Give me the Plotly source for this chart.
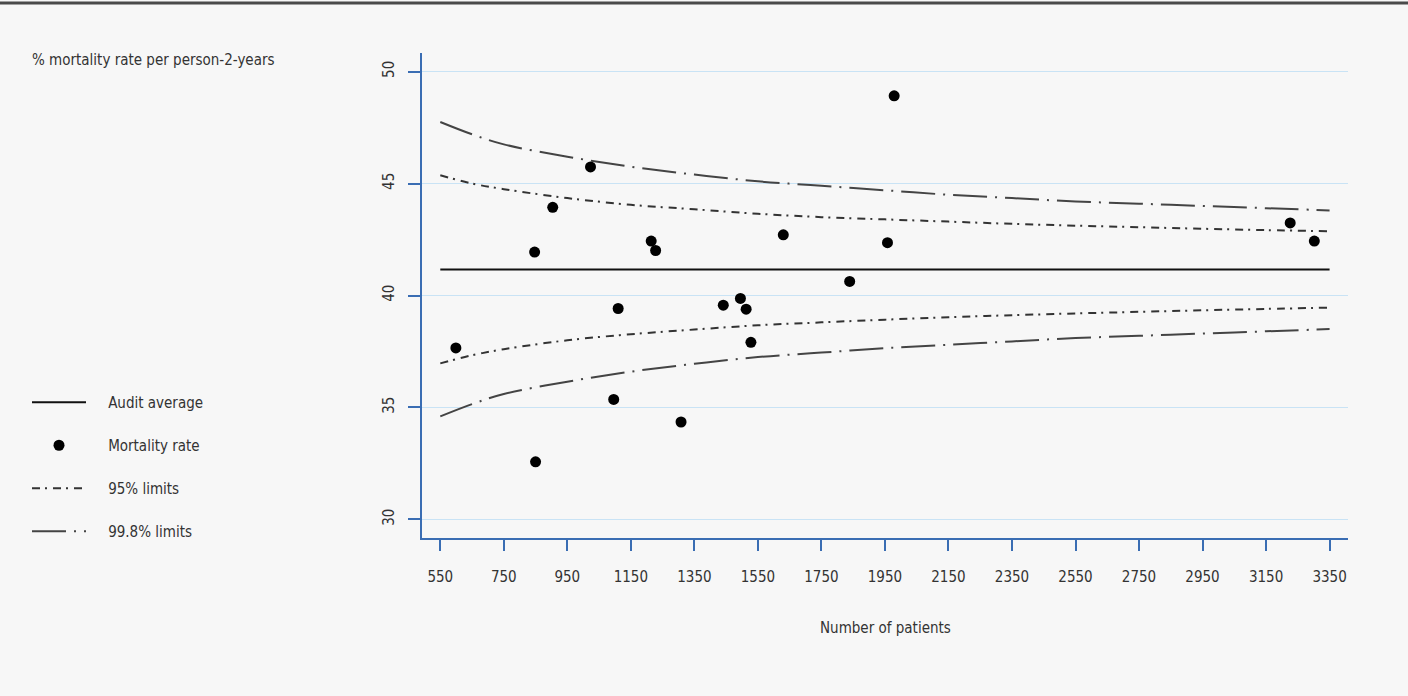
import plotly.graph_objects as go

# ---- data ----
n_patients = [599, 847, 850, 904, 1023, 1096, 1110, 1214, 1228, 1308,
              1441, 1495, 1513, 1528, 1630, 1839, 1958, 1979, 3226, 3302]
mortality = [37.66, 41.94, 32.57, 43.94, 45.74, 35.36, 39.42, 42.43, 42.01, 34.35,
             39.57, 39.87, 39.39, 37.91, 42.71, 40.63, 42.36, 48.92, 43.24, 42.43]

audit_x = [550, 3350]
audit_avg = [41.16, 41.16]

limit_x = [550, 650, 750, 950, 1150, 1350, 1550, 1750, 1950, 2150, 2350, 2550, 2750, 2950, 3150, 3350]
upper_998 = [47.75, 47.2, 46.75, 46.2, 45.75, 45.4, 45.1, 44.9, 44.7, 44.5, 44.35, 44.2, 44.1, 44.0, 43.9, 43.8]
upper_95 = [45.37, 45.0, 44.75, 44.35, 44.05, 43.85, 43.65, 43.5, 43.4, 43.3, 43.2, 43.12, 43.05, 42.98, 42.92, 42.87]
lower_95 = [36.97, 37.33, 37.6, 38.0, 38.27, 38.48, 38.67, 38.8, 38.92, 39.03, 39.12, 39.2, 39.27, 39.34, 39.4, 39.46]
lower_998 = [34.6, 35.15, 35.6, 36.15, 36.6, 36.95, 37.25, 37.45, 37.65, 37.8, 37.95, 38.1, 38.2, 38.3, 38.4, 38.5]

x_ticks = list(range(550, 3351, 200))
y_ticks = [30, 35, 40, 45, 50]

FONT = "Liberation Sans Narrow, Arial Narrow, DejaVu Sans Condensed, sans-serif"
FS = 15
TXT = "#333333"
AXIS_BLUE = "#3a6db3"
GRID = "#c9e3f5"
BG = "#f7f7f7"
DASH95 = "8px,5px,2px,6px"
DASH998 = "34px,8px,2px,8px"
PAD = "\u00a0" * 4

fig = go.Figure()

fig.add_trace(go.Scatter(x=audit_x, y=audit_avg, mode="lines", name=PAD + "Audit average",
                         line=dict(color="#111111", width=2), legendgroup="a"))
fig.add_trace(go.Scatter(x=n_patients, y=mortality, mode="markers", name=PAD + "Mortality rate",
                         marker=dict(color="#000000", size=11), legendgroup="b"))
fig.add_trace(go.Scatter(x=limit_x, y=upper_95, mode="lines", name=PAD + "95% limits",
                         line=dict(color="#333333", width=2, dash=DASH95, shape="spline"),
                         legendgroup="c"))
fig.add_trace(go.Scatter(x=limit_x, y=lower_95, mode="lines", name="95% limits",
                         line=dict(color="#333333", width=2, dash=DASH95, shape="spline"),
                         legendgroup="c", showlegend=False))
fig.add_trace(go.Scatter(x=limit_x, y=upper_998, mode="lines", name=PAD + "99.8% limits",
                         line=dict(color="#444444", width=2, dash=DASH998, shape="spline"),
                         legendgroup="d"))
fig.add_trace(go.Scatter(x=limit_x, y=lower_998, mode="lines", name="99.8% limits",
                         line=dict(color="#444444", width=2, dash=DASH998, shape="spline"),
                         legendgroup="d", showlegend=False))

fig.update_layout(
    width=1408, height=696,
    margin=dict(l=422, r=60, t=53, b=158),
    paper_bgcolor=BG, plot_bgcolor=BG,
    font=dict(family=FONT, size=FS, color=TXT),
    showlegend=True,
    legend=dict(xref="container", yref="container", x=27/1408, y=1 - 386/696,
                xanchor="left", yanchor="top", bgcolor="rgba(0,0,0,0)",
                font=dict(family=FONT, size=FS, color=TXT),
                tracegroupgap=20.5, itemwidth=54, traceorder="grouped"),
    xaxis=dict(range=[492.4, 3408], tickvals=x_ticks, ticktext=[str(v) for v in x_ticks],
               showgrid=False, zeroline=False, showline=True, linecolor=AXIS_BLUE, linewidth=2,
               ticks="outside", ticklen=11, tickwidth=2, tickcolor=AXIS_BLUE,
               ticklabelstandoff=13, tickfont=dict(family=FONT, size=FS, color=TXT)),
    yaxis=dict(range=[29.17, 50.83], tickvals=y_ticks, ticktext=[str(v) for v in y_ticks],
               showgrid=True, gridcolor=GRID, gridwidth=1, zeroline=False,
               showline=True, linecolor=AXIS_BLUE, linewidth=2,
               ticks="outside", ticklen=12, tickwidth=2, tickcolor=AXIS_BLUE,
               tickangle=-90, ticklabelstandoff=8,
               tickfont=dict(family=FONT, size=FS, color=TXT)),
    annotations=[
        dict(text="% mortality rate per person-2-years", xref="paper", yref="paper",
             x=(30 - 422) / 926, y=1 + (53 - 60) / 485, xanchor="left", yanchor="middle",
             showarrow=False, font=dict(family=FONT, size=FS, color=TXT)),
        dict(text="Number of patients", xref="paper", yref="paper",
             x=0.5, y=-(628 - 538) / 485, xanchor="center", yanchor="middle",
             showarrow=False, font=dict(family=FONT, size=FS, color=TXT)),
    ],
    shapes=[dict(type="line", xref="paper", yref="paper",
                 x0=-422 / 926, x1=986 / 926, y0=1 + 50 / 485, y1=1 + 50 / 485,
                 line=dict(color="#4a4a4a", width=3))],
)

fig.write_html("out.html")
